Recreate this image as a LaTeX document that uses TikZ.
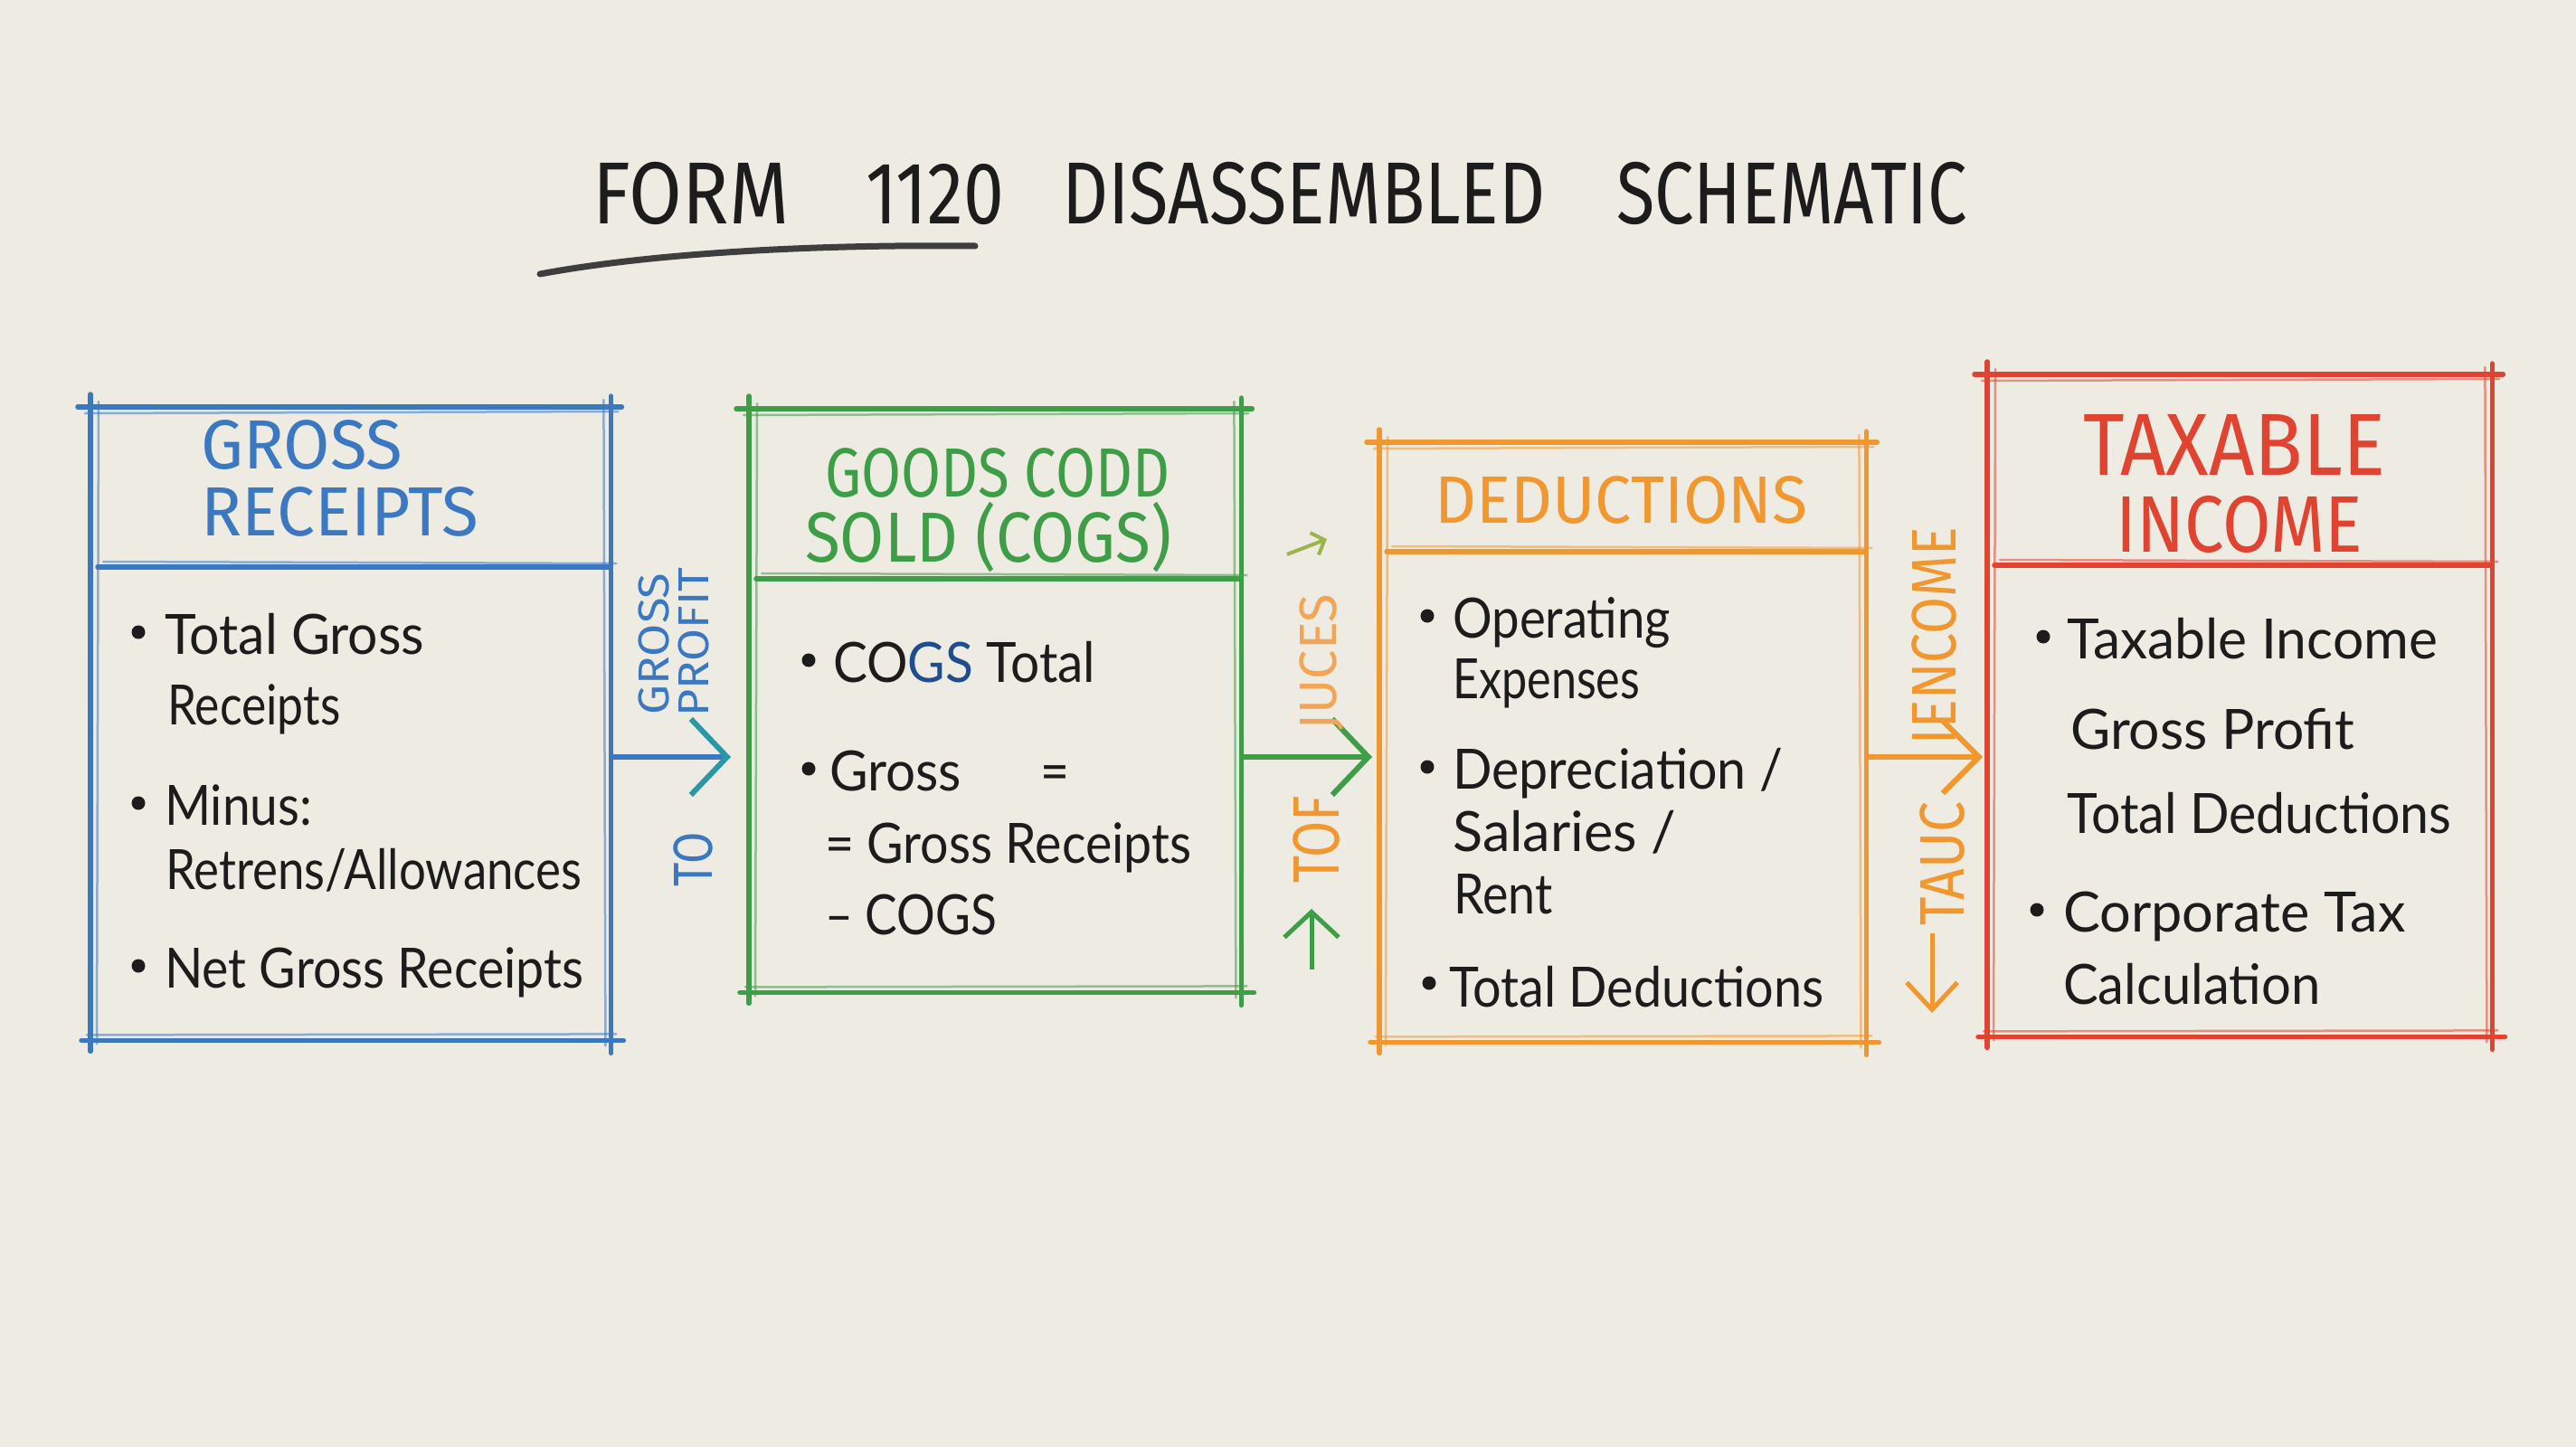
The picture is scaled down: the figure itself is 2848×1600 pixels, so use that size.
\documentclass[tikz,border=0pt]{standalone}
\usepackage{fontspec}
\usepackage{graphicx}
\usetikzlibrary{arrows.meta,calc}
\setmainfont{Lato}
\newfontfamily\ttl{Fira Sans}
\definecolor{paper}{HTML}{EEEBE3}
\definecolor{cblue}{HTML}{3A78C2}
\definecolor{cgreen}{HTML}{3D9E47}
\definecolor{corange}{HTML}{F2962E}
\definecolor{clorange}{HTML}{F3A556}
\definecolor{cred}{HTML}{E0432F}
\definecolor{cink}{HTML}{1C1C1C}
\definecolor{cteal}{HTML}{2A97A6}
\definecolor{cyg}{HTML}{9AB54A}
\definecolor{cdblue}{HTML}{1F4E8C}
\newcommand\fit[3]{\resizebox{#1}{#2}{\smash{#3}\rule{0pt}{\fontcharht\font`\H}}}
\tikzset{
  edge/.style={line width=5.5pt, line cap=round},
  ghost/.style={line width=2.5pt, opacity=0.55, line cap=round},
  body/.style={anchor=base west, inner sep=0pt, text=cink},
  btitle/.style={anchor=base west, inner sep=0pt, font=\ttl},
  rlabel/.style={rotate=90, inner sep=0pt, font=\ttl},
  boxnode/.style={draw=none, inner sep=0pt, anchor=north west},
  bul/.style={cink},
}
\newcommand\skbox[3]{%
  \draw[edge,#2] ([xshift=-14pt]#1.north west) -- ([xshift=12pt]#1.north east);
  \draw[edge,#2] ([xshift=-10pt]#1.south west) -- ([xshift=14pt]#1.south east);
  \draw[edge,#2] ([yshift=14pt]#1.north west) -- ([yshift=-12pt]#1.south west);
  \draw[edge,#2] ([yshift=12pt]#1.north east) -- ([yshift=-14pt]#1.south east);
  \draw[ghost,#2] ([shift={(-6pt,-7pt)}]#1.north west) -- ([shift={(8pt,-5pt)}]#1.north east);
  \draw[ghost,#2] ([shift={(9pt,6pt)}]#1.north west) -- ([shift={(7pt,-4pt)}]#1.south west);
  \draw[ghost,#2] ([shift={(-8pt,8pt)}]#1.north east) -- ([shift={(-6pt,-6pt)}]#1.south east);
  \draw[ghost,#2] ([shift={(-4pt,6pt)}]#1.south west) -- ([shift={(6pt,7pt)}]#1.south east);
  \draw[edge,#2] ($(#1.west |- #3)+(8,0)$) -- ($(#1.east |- #3)+(-2,0)$);
  \draw[ghost,#2] ($(#1.west |- #3)+(14,-6)$) -- ($(#1.east |- #3)+(6,-4)$);
}
\begin{document}
\begin{tikzpicture}[x=1pt,y=-1pt]
\fill[paper] (0,0) rectangle (2848,1600);
\useasboundingbox (0,0) rectangle (2848,1600);

% ---------- title ----------
\node[anchor=base west, inner sep=0pt, text=cink] (t1) at (655,247) {\ttl\fit{217pt}{67pt}{FORM}};
\node[anchor=base west, inner sep=0pt, text=cink] (t2) at (957,247) {\ttl\fit{153pt}{67pt}{1120}};
\node[anchor=base west, inner sep=0pt, text=cink] (t3) at (1174,247) {\ttl\fit{534pt}{67pt}{DISASSEMBLED}};
\node[anchor=base west, inner sep=0pt, text=cink] (t4) at (1787,247) {\ttl\fit{387pt}{67pt}{SCHEMATIC}};
\coordinate (ul0) at (597,303);
\coordinate (ul1) at (1078,272);
\draw[line width=7pt, cink!85, line cap=round] (ul0) .. controls (720,280) and (900,270) .. (ul1);

% ---------- boxes ----------
\node[boxnode, minimum width=575pt, minimum height=700pt] (b1) at (100,450) {};
\node[boxnode, minimum width=544pt, minimum height=645pt] (b2) at (828,452) {};
\node[boxnode, minimum width=538pt, minimum height=663pt] (b3) at (1525,489) {};
\node[boxnode, minimum width=558pt, minimum height=732pt] (b4) at (2197,414) {};
\coordinate (d1) at (0,627);
\coordinate (d2) at (0,640);
\coordinate (d3) at (0,610);
\coordinate (d4) at (0,625);
\skbox{b1}{cblue}{d1}
\skbox{b2}{cgreen}{d2}
\skbox{b3}{corange}{d3}
\skbox{b4}{cred}{d4}

% ---------- box titles ----------
\node[btitle, text=cblue] (h1a) at (222,518) {\fit{223pt}{53pt}{GROSS}};
\node[btitle, text=cblue] (h1b) at (222,592) {\fit{307pt}{53pt}{RECEIPTS}};
\node[btitle, text=cgreen] (h2a) at (912,549) {\fit{381pt}{53pt}{GOODS CODD}};
\node[btitle, text=cgreen] (h2b) at (890,621) {\fit{405pt}{54pt}{SOLD (COGS)}};
\node[btitle, text=corange] (h3) at (1586,578) {\fit{412pt}{51pt}{DEDUCTIONS}};
\node[btitle, text=cred] (h4a) at (2303,525) {\fit{334pt}{67pt}{TAXABLE}};
\node[btitle, text=cred] (h4b) at (2339,610) {\fit{273pt}{61pt}{INCOME}};

% ---------- box 1 ----------
\node[body] (l11) at (182,723) {\fit{287pt}{44pt}{Total Gross}};
\node[body] (l12) at (185,801) {\fit{191pt}{44pt}{Receipts}};
\node[body] (l13) at (182,912) {\fit{163pt}{44pt}{Minus:}};
\node[body] (l14) at (183,983) {\fit{460pt}{44pt}{Retrens/Allowances}};
\node[body] (l15) at (182,1092) {\fit{463pt}{44pt}{Net Gross Receipts}};
\fill[bul] (153,699) circle (7.5);
\fill[bul] (153,888) circle (7.5);
\fill[bul] (153,1068) circle (7.5);

% ---------- box 2 ----------
\node[body] (l21) at (921,754) {\fit{290pt}{44pt}{CO\textcolor{cdblue}{GS} Total}};
\node[body] (l22) at (917,874) {\fit{146pt}{44pt}{Gross}};
\node[body] (l22e) at (1150,874) {\fit{32pt}{44pt}{=}};
\node[body] (l23) at (912,954) {\fit{405pt}{44pt}{= Gross Receipts}};
\node[body] (l24) at (912,1033) {\fit{190pt}{44pt}{– COGS}};
\fill[bul] (894,730) circle (7.5);
\fill[bul] (894,850) circle (7.5);

% ---------- box 3 ----------
\node[body] (l31) at (1606,705) {\fit{241pt}{44pt}{Operating}};
\node[body] (l32) at (1606,772) {\fit{207pt}{44pt}{Expenses}};
\node[body] (l33) at (1606,872) {\fit{365pt}{44pt}{Depreciation~/}};
\node[body] (l34) at (1606,941) {\fit{247pt}{44pt}{Salaries~/}};
\node[body] (l35) at (1607,1010) {\fit{109pt}{44pt}{Rent}};
\node[body] (l36) at (1602,1113) {\fit{414pt}{44pt}{Total Deductions}};
\fill[bul] (1578,681) circle (7.5);
\fill[bul] (1578,848) circle (7.5);
\fill[bul] (1580,1087) circle (7.5);

% ---------- box 4 ----------
\node[body] (l41) at (2285,728) {\fit{410pt}{44pt}{Taxable Income}};
\node[body] (l42) at (2289,828) {\fit{314pt}{44pt}{Gross Profit}};
\node[body] (l43) at (2285,921) {\fit{425pt}{44pt}{Total Deductions}};
\node[body] (l44) at (2281,1030) {\fit{378pt}{44pt}{Corporate Tax}};
\node[body] (l45) at (2281,1110) {\fit{284pt}{44pt}{Calculation}};
\fill[bul] (2259,704) circle (7.5);
\fill[bul] (2252,1006) circle (7.5);

% ---------- connectors ----------
\coordinate (ay) at (0,837);
\draw[line width=6pt, cblue, -{Straight Barb[length=40pt,width=84pt,color=cteal]}, shorten >=20pt] (b1.east |- ay) -- (b2.west |- ay);
\draw[line width=6pt, cgreen, -{Straight Barb[length=40pt,width=84pt]}, shorten >=8pt] (b2.east |- ay) -- (b3.west |- ay);
\draw[line width=6pt, corange, -{Straight Barb[length=40pt,width=80pt]}, shorten >=5pt] (b3.east |- ay) -- (b4.west |- ay);

% free arrows
\coordinate (ga0) at (1450,1072);
\coordinate (ga1) at (1450,1005);
\draw[line width=5pt, cgreen, -{Straight Barb[length=28pt,width=60pt]}] (ga0) -- (ga1);
\coordinate (oa0) at (2136,1032);
\coordinate (oa1) at (2136,1120);
\draw[line width=5pt, corange, -{Straight Barb[length=30pt,width=56pt]}] (oa0) -- (oa1);
\coordinate (ya0) at (1423,613);
\coordinate (ya1) at (1467,596);
\draw[line width=4pt, cyg, -{Straight Barb[length=12pt,width=26pt]}] (ya0) -- (ya1);

% ---------- connector labels ----------
\node[rlabel, text=cblue] (lg) at (723,712) {\fit{157pt}{33pt}{GROSS}};
\node[rlabel, text=cblue] (lp) at (767,710) {\fit{165pt}{33pt}{PROFIT}};
\node[rlabel, text=cblue] (lto) at (766,950) {\fit{60pt}{42pt}{TO}};
\node[rlabel, text=clorange] (lju) at (1457,732) {\fit{150pt}{40pt}{JUCES}};
\node[rlabel, text=corange] (ltof) at (1455,928) {\fit{97pt}{50pt}{TOF}};
\node[rlabel, text=corange] (lin) at (2138,703) {\fit{240pt}{48pt}{IENCOME}};
\node[rlabel, text=corange] (lta) at (2147,955) {\fit{137pt}{48pt}{TAUC}};
\end{tikzpicture}
\end{document}
